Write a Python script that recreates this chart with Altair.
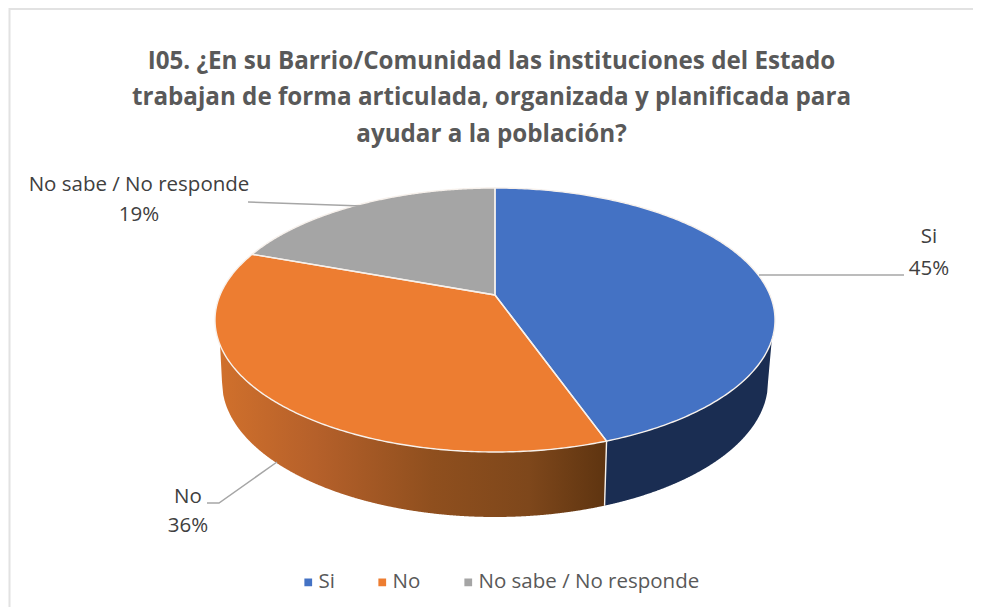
import math
import numpy as np
import pandas as pd
import altair as alt

# ---- chart content
TITLE_LINES = ["I05. ¿En su Barrio/Comunidad las instituciones del Estado",
               "trabajan de forma articulada, organizada y planificada para",
               "ayudar a la población?"]
CATEGORIES = ["Si", "No", "No sabe / No responde"]
VALUES = [45, 36, 19]
TOP_COLORS = ["#4472C4", "#ED7D31", "#A5A5A5"]
LABEL_X = [929, 188, 139]
LABEL_Y1 = [237, 497, 185]
LABEL_Y2 = [269, 526, 215]
FONT = "Open Sans"

# ---- pie geometry (page pixel units; the scales below map them to the canvas)
CX, CY, RX, RY = 495.0, 320.0, 280.0, 132.0     # top face
LCY, LRX, LRY = 382.0, 273.0, 135.0             # bottom rim
PERSP = 25.0 / 132.0                            # perspective shift of the centre
WARP = math.radians(2.5)


def project(a):
    a = a + WARP * math.sin(2 * a)
    X, Y = math.sin(a), math.cos(a)
    d = 1 + PERSP * Y
    return (CX + RX * X * math.sqrt(1 - PERSP ** 2) / d,
            CY - RY * (Y + PERSP) / d)


def span_rows(poly, name):
    xs = sorted({round(p[0], 3) for p in poly} |
                {float(v) for v in np.arange(math.ceil(min(p[0] for p in poly)),
                                             math.floor(max(p[0] for p in poly)) + 1)})
    rows = []
    n = len(poly)
    for x in xs:
        ys = []
        for i in range(n):
            (x0, y0), (x1, y1) = poly[i], poly[(i + 1) % n]
            x0r, x1r = round(x0, 3), round(x1, 3)
            if min(x0r, x1r) <= x <= max(x0r, x1r):
                if x0r == x1r:
                    ys += [y0, y1]
                else:
                    ys.append(y0 + (y1 - y0) * (x - x0r) / (x1r - x0r))
        if ys:
            rows.append({"slice": name, "x": x, "y": min(ys), "y2": max(ys)})
    return rows


apex = project(0.0)[0], CY - RY * PERSP
total = sum(VALUES)
edges = np.cumsum([0] + VALUES) / total * 2 * math.pi
top_rows, out_rows = [], []
for k, name in enumerate(CATEGORIES):
    arc = [project(a) for a in np.linspace(edges[k], edges[k + 1], 240)]
    poly = [apex] + arc
    top_rows += span_rows(poly, name)
    closed = poly + [apex]
    out_rows += [{"slice": name, "i": i, "x": p[0], "y": p[1]} for i, p in enumerate(closed)]

seam_a = edges[1]
seam_top = project(seam_a)


def top_lower(x):
    return CY + RY * math.sqrt(max(0, 1 - ((x - CX) / RX) ** 2))


def rim_lower(x):
    return LCY + LRY * math.sqrt(max(0, 1 - ((x - CX) / LRX) ** 2))


seam_low = (seam_top[0] - 2, rim_lower(seam_top[0] - 2))
RIGHT_JOIN_Y, LEFT_JOIN_Y = 340.0, 345.0
rj = (CX + RX * math.sqrt(1 - ((RIGHT_JOIN_Y - CY) / RY) ** 2), RIGHT_JOIN_Y)
lj = (CX - RX * math.sqrt(1 - ((LEFT_JOIN_Y - CY) / RY) ** 2), LEFT_JOIN_Y)

blue_poly = ([(x, top_lower(x)) for x in np.linspace(rj[0], seam_top[0], 200)] +
             [(x, rim_lower(x)) for x in np.linspace(seam_low[0], CX + LRX, 200)])
orange_poly = ([(x, top_lower(x)) for x in np.linspace(lj[0], seam_top[0], 300)] +
               [(x, rim_lower(x)) for x in np.linspace(seam_low[0], CX - LRX, 300)])

# white seam and rim highlight
out_rows += [{"slice": "seam", "i": 0, "x": seam_top[0], "y": seam_top[1]},
             {"slice": "seam", "i": 1, "x": seam_low[0], "y": seam_low[1]}]

top_df = pd.DataFrame(top_rows)
out_df = pd.DataFrame(out_rows)
blue_df = pd.DataFrame(span_rows(blue_poly, "blue"))
orange_df = pd.DataFrame(span_rows(orange_poly, "orange"))

leader_df = pd.DataFrame([
    {"k": "Si", "i": 0, "x": 759, "y": 275}, {"k": "Si", "i": 1, "x": 904, "y": 275},
    {"k": "No", "i": 0, "x": 277, "y": 462}, {"k": "No", "i": 1, "x": 219, "y": 503},
    {"k": "No", "i": 2, "x": 207, "y": 503},
    {"k": "NS", "i": 0, "x": 362, "y": 206}, {"k": "NS", "i": 1, "x": 248, "y": 202},
])
label_df = pd.DataFrame(
    [{"x": x, "y": y, "t": c} for x, y, c in zip(LABEL_X, LABEL_Y1, CATEGORIES)] +
    [{"x": x, "y": y, "t": f"{v}%"} for x, y, v in zip(LABEL_X, LABEL_Y2, VALUES)])
frame_df = pd.DataFrame([
    {"k": "top", "i": 0, "x": 973, "y": 9}, {"k": "top", "i": 1, "x": 9.5, "y": 9},
    {"k": "top", "i": 2, "x": 9.5, "y": 607},
])

W, H = 965, 599
xs = alt.Scale(domain=[8, 8 + W], nice=False, zero=False)
ys = alt.Scale(domain=[8 + H, 8], nice=False, zero=False)
X = alt.X("x:Q", scale=xs, axis=None)
Y = alt.Y("y:Q", scale=ys, axis=None)

side_blue = alt.Chart(blue_df).mark_area(color="#1A2D52").encode(x=X, y=Y, y2="y2:Q")
side_orange = alt.Chart(orange_df).mark_area(
    color=alt.Gradient(gradient="linear", x1=0, x2=1, y1=0, y2=0, stops=[
        alt.GradientStop(color="#D0702C", offset=0),
        alt.GradientStop(color="#B5602A", offset=0.25),
        alt.GradientStop(color="#8F4F1E", offset=0.55),
        alt.GradientStop(color="#7E471B", offset=0.8),
        alt.GradientStop(color="#5E3410", offset=1),
    ])).encode(x=X, y=Y, y2="y2:Q")

top = alt.Chart(top_df).mark_area(opacity=1).encode(
    x=X, y=Y, y2="y2:Q",
    color=alt.Color("slice:N",
                    scale=alt.Scale(domain=CATEGORIES, range=TOP_COLORS),
                    sort=CATEGORIES,
                    legend=alt.Legend(orient="none", legendX=290, legendY=564,
                                      direction="horizontal", title=None,
                                      symbolType="square", symbolSize=60,
                                      symbolStrokeWidth=0, columnPadding=37,
                                      labelFont=FONT, labelFontSize=20.5,
                                      labelLimit=400,
                                      labelColor="#595959", labelOffset=0)),
)
outline = alt.Chart(out_df).mark_line(color="#F7F1EC", strokeWidth=1.4).encode(
    x=X, y=Y, detail="slice:N", order="i:Q")
leaders = alt.Chart(leader_df).mark_line(color="#A6A6A6", strokeWidth=1.5).encode(
    x=X, y=Y, detail="k:N", order="i:Q")
labels = alt.Chart(label_df).mark_text(font=FONT, fontSize=20.5, color="#404040",
                                       align="center", baseline="middle").encode(
    x=X, y=Y, text="t:N")
frame = alt.Chart(frame_df).mark_line(color="#E2E2E2", strokeWidth=2).encode(
    x=X, y=Y, detail="k:N", order="i:Q")

chart = alt.layer(frame, side_blue, side_orange, top, outline, leaders, labels).properties(
    width=W, height=H,
    padding=0,
    background="white",
    autosize=alt.AutoSizeParams(type="none"),
    title=alt.TitleParams(text=TITLE_LINES, font=FONT, fontSize=24.2, fontWeight="bold",
                          color="#595959", lineHeight=36.5, anchor="middle",
                          baseline="top", dx=1, dy=142, offset=0),
).configure_view(strokeWidth=0)

chart.save("out.html", embed_options={"renderer": "svg", "actions": False})
